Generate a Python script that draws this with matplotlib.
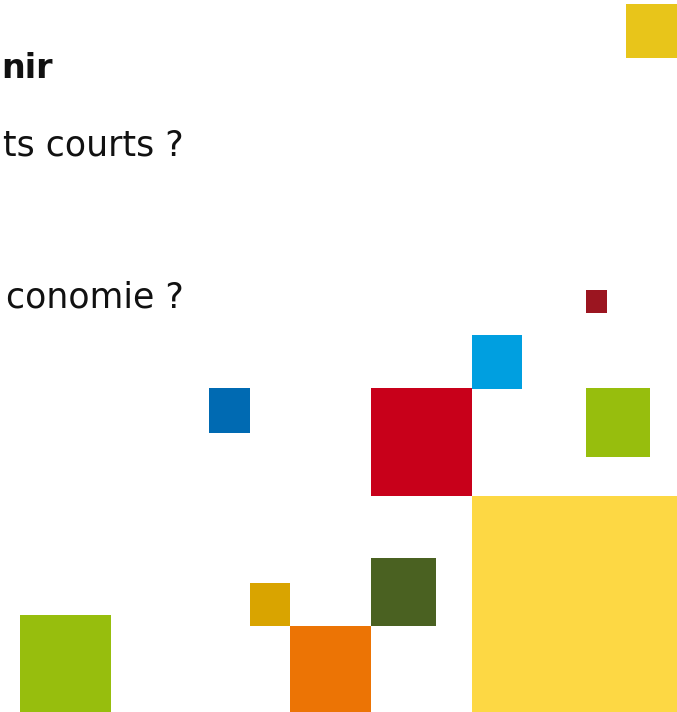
import matplotlib
matplotlib.use('Agg')
import matplotlib.pyplot as plt

# Squares (pixel coordinates, y from top)
sq_left = [626, 585.5, 472, 208.5, 370.5, 585.5, 472, 370.5, 249.6, 290, 20.3]
sq_top = [4, 290, 335, 388, 388, 388, 496, 557.7, 582.7, 626, 614.7]
sq_width = [51, 21.5, 50, 41, 101.5, 64.5, 205, 65.2, 40.4, 80.5, 91.1]
sq_height = [54, 23, 54, 44.5, 108, 69, 216, 68.3, 43.3, 86, 97.3]
sq_colors = ['#E8C51A', '#9B1520', '#009FE0', '#006AB2', '#C8001A', '#97BE0D',
             '#FDD844', '#4A6121', '#D9A400', '#EC7405', '#97BE0D']

# Visible parts of the text lines (the slide is cut on the left)
lines = ['nir', 'ts courts ?', 'conomie ?']
line_right = [53, 183.5, 183.5]
line_base = [78, 155, 308]
line_weight = ['bold', 'normal', 'normal']
line_size = [24, 25, 25]

fig = plt.figure(figsize=(6.77, 7.12), dpi=100)
ax = fig.add_axes([0, 0, 1, 1])
ax.set_xlim(0, 677)
ax.set_ylim(712, 0)
ax.axis('off')

ax.bar(sq_left, sq_height, width=sq_width, bottom=sq_top, align='edge',
       color=sq_colors, linewidth=0)

for txt, xr, yb, w, fs in zip(lines, line_right, line_base, line_weight, line_size):
    ax.text(xr, yb, txt, ha='right', va='baseline', fontsize=fs,
            fontweight=w, family='DejaVu Sans', color='#111111')

fig.savefig('out.png', dpi=100)
